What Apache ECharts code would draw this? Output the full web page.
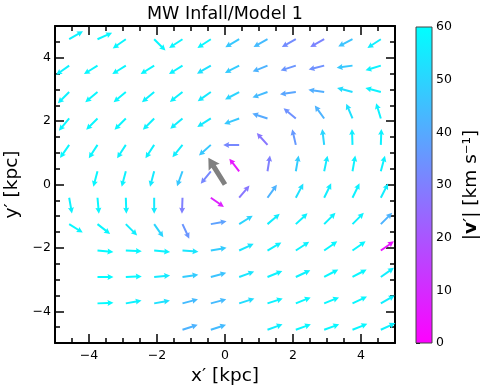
<!DOCTYPE html>
<html><head><meta charset="utf-8">
<script src="https://cdn.jsdelivr.net/npm/echarts@6/dist/echarts.min.js"></script>
<style>html,body{margin:0;padding:0;background:#fff}#c{width:489px;height:391px}</style>
</head><body><div id="c"></div>
<script>
const chartTitle = 'MW Infall/Model 1';
const xCenters = [-4.583, -3.75, -2.917, -2.083, -1.25, -0.417, 0.417, 1.25, 2.083, 2.917, 3.75, 4.583];
const yCenters = [4.583, 3.75, 2.917, 2.083, 1.25, 0.417, -0.417, -1.25, -2.083, -2.917, -3.75, -4.583];
// arrow direction (degrees, counter-clockwise from +x), row by row from top
const angleGrid = [
  [30, 24, 215, 315, 213, 213, 210, 209, 209, 209, 207, 213],
  [215, 212, 212, 212, 212, 210, 207, 202, 198, 194, 188, 197],
  [225, 220, 220, 220, 218, 215, 208, 200, 188, 172, 165, 165],
  [230, 225, 225, 225, 220, 212, 200, 162, 140, 126, 113, 107],
  [235, 237, 237, 237, 231, 222, 180, 132, 103, 97, 92, 88],
  [null, 255, 255, 255, 250, 231, 128, 81, 80, 78, 80, 75],
  [280, 275, 272, 270, 268, 325, 50, 54, 62, 64, 64, 63],
  [328, 322, 315, 305, 295, 10, 32, 40, 43, 45, 45, 45],
  [null, 355, 357, 355, 356, 10, 25, 30, 33, 35, 35, 35],
  [null, 0, 2, 5, 8, 15, 20, 22, 25, 28, 28, 35],
  [null, 2, 10, 10, 15, 15, 18, 18, 22, 22, 25, 30],
  [null, null, null, null, 18, 18, null, 20, 20, 20, 22, 25]
];
// |v'| in km/s
const speedGrid = [
  [57, 58, 58, 58, 58, 58, 47, 44, 33, 31, 46, 56],
  [57, 58, 58, 58, 57, 53, 48, 42, 35, 34, 47, 57],
  [57, 58, 58, 57, 57, 55, 50, 44, 39, 41, 52, 57],
  [58, 58, 58, 57, 56, 55, 47, 40, 34, 42, 53, 57],
  [58, 58, 57, 57, 56, 47, 32, 28, 36, 50, 56, 57],
  [null, 58, 57, 55, 47, 32, 6, 30, 48, 55, 57, 57],
  [57, 58, 57, 55, 30, 8, 28, 42, 53, 56, 57, 56],
  [58, 58, 56, 50, 35, 38, 50, 56, 57, 57, 57, 42],
  [null, 59, 58, 57, 54, 48, 54, 57, 57, 58, 58, 5],
  [null, 59, 58, 55, 48, 46, 54, 57, 57, 58, 58, 56],
  [null, 59, 57, 53, 44, 44, 52, 57, 58, 58, 58, 56],
  [null, null, null, null, 42, 44, null, 56, 58, 58, 58, 57]
];
const refArrowTail = [0, 0];
const refArrowHead = [-0.49, 0.84];
const colorbarMin = 0, colorbarMax = 60;

const FONT = 'DejaVu Sans';
const arrowData = [];
yCenters.forEach((y, r) => xCenters.forEach((x, c) => {
  const a = angleGrid[r][c], s = speedGrid[r][c];
  if (a !== null && s !== null) arrowData.push([x, y, a, s]);
}));

function arrowPoly(px, py, ang, L, sw, hw, hl, hal) {
  const ux = Math.cos(ang), uy = -Math.sin(ang);
  const nx = -uy, ny = ux;
  const P = (a, b) => [px + ux * a + nx * b, py + uy * a + ny * b];
  return [P(0, -sw), P(L - hal, -sw), P(L - hl, -hw), P(L, 0), P(L - hl, hw), P(L - hal, sw), P(0, sw)];
}
const fmt = v => (Math.abs(v) >= 5 ? '' : (v < 0 ? '\u2212' + Math.abs(v) : '' + v));

const chart = echarts.init(document.getElementById('c'), null, {renderer: 'canvas'});
const mainAxisCommon = {
  type: 'value', min: -5, max: 5, splitNumber: 5,
  axisLine: {show: true, onZero: false, lineStyle: {color: '#000', width: 2}},
  axisTick: {show: true, inside: true, length: 9, lineStyle: {color: '#000', width: 1.5}},
  minorTick: {show: true, splitNumber: 4, length: 5, lineStyle: {color: '#000', width: 1.5}},
  splitLine: {show: false}, minorSplitLine: {show: false}
};
chart.setOption({
  animation: false,
  textStyle: {fontFamily: FONT},
  grid: [
    {left: 55, top: 26, width: 340, height: 317, outerBoundsMode: 'none'},
    {left: 416, top: 27, width: 16, height: 316, outerBoundsMode: 'none'}
  ],
  xAxis: [
    Object.assign({}, mainAxisCommon, {gridIndex: 0, position: 'bottom',
      axisLabel: {color: '#000', fontSize: 12.5, fontFamily: FONT, margin: 6, formatter: fmt},
      name: 'x\u2032 [kpc]', nameLocation: 'middle', nameGap: 17,
      nameTextStyle: {color: '#000', fontSize: 18.5, fontFamily: FONT}}),
    Object.assign({}, mainAxisCommon, {gridIndex: 0, position: 'top', axisLabel: {show: false}}),
    {gridIndex: 1, type: 'value', min: 0, max: 1, show: false}
  ],
  yAxis: [
    Object.assign({}, mainAxisCommon, {gridIndex: 0, position: 'left',
      axisLabel: {color: '#000', fontSize: 12.5, fontFamily: FONT, margin: 4, formatter: fmt},
      name: 'y\u2032 [kpc]', nameLocation: 'middle', nameGap: 23, nameRotate: 90,
      nameTextStyle: {color: '#000', fontSize: 18.5, fontFamily: FONT}}),
    Object.assign({}, mainAxisCommon, {gridIndex: 0, position: 'right', axisLabel: {show: false}}),
    {gridIndex: 1, type: 'value', min: colorbarMin, max: colorbarMax, interval: 10, position: 'right',
      axisLine: {show: false},
      axisTick: {show: true, inside: false, length: 4, lineStyle: {color: '#000', width: 1}},
      splitLine: {show: false},
      axisLabel: {color: '#000', fontSize: 12.5, fontFamily: FONT, margin: 4},
      name: '|{b|v}\u2032| [km s\u207B\u00B9]', nameLocation: 'middle', nameGap: 30, nameRotate: 90,
      nameTextStyle: {color: '#000', fontSize: 18.5, fontFamily: FONT,
        rich: {b: {fontWeight: 'bold', fontSize: 18.5, fontFamily: FONT, color: '#000'}}}}
  ],
  visualMap: {
    show: false, type: 'continuous', min: colorbarMin, max: colorbarMax, dimension: 3, seriesIndex: 0,
    inRange: {color: ['#ff00ff', '#00ffff']}
  },
  graphic: [{type: 'text', x: 225, y: 14, style: {text: chartTitle, fill: '#000', font: '17.5px "DejaVu Sans"', textAlign: 'center', textVerticalAlign: 'middle'}}],
  series: [
    {
      type: 'custom', xAxisIndex: 0, yAxisIndex: 0, clip: false,
      dimensions: ['x', 'y', 'angle', 'speed'], encode: {x: 0, y: 1},
      data: arrowData,
      renderItem: function (params, api) {
        const p = api.coord([api.value(0), api.value(1)]);
        const ang = api.value(2) * Math.PI / 180;
        return {type: 'polygon', shape: {points: arrowPoly(p[0], p[1], ang, 16, 1.0, 3.0, 6, 5.4)},
          style: {fill: api.visual('color'), stroke: null}};
      }
    },
    {
      type: 'custom', xAxisIndex: 0, yAxisIndex: 0, clip: false, z: 5,
      data: [[refArrowTail[0], refArrowTail[1], refArrowHead[0], refArrowHead[1]]],
      encode: {x: 0, y: 1},
      renderItem: function (params, api) {
        const t = api.coord([api.value(0), api.value(1)]);
        const h = api.coord([api.value(2), api.value(3)]);
        const dx = h[0] - t[0], dy = h[1] - t[1];
        const L = Math.sqrt(dx * dx + dy * dy);
        const ang = Math.atan2(-dy, dx);
        return {type: 'polygon', shape: {points: arrowPoly(t[0], t[1], ang, L, 2.5, 6.5, 11, 10)},
          style: {fill: '#808080', stroke: null}};
      }
    },
    {
      type: 'custom', xAxisIndex: 2, yAxisIndex: 2, clip: false,
      data: [[0, colorbarMin, 1, colorbarMax]], encode: {x: 0, y: 1},
      renderItem: function (params, api) {
        const a = api.coord([api.value(0), api.value(3)]);
        const b = api.coord([api.value(2), api.value(1)]);
        return {type: 'rect', shape: {x: a[0], y: a[1], width: b[0] - a[0], height: b[1] - a[1]},
          style: {fill: new echarts.graphic.LinearGradient(0, 0, 0, 1, [{offset: 0, color: '#00ffff'}, {offset: 1, color: '#ff00ff'}]),
            stroke: '#444', lineWidth: 1}};
      }
    }
  ]
});
</script></body></html>
